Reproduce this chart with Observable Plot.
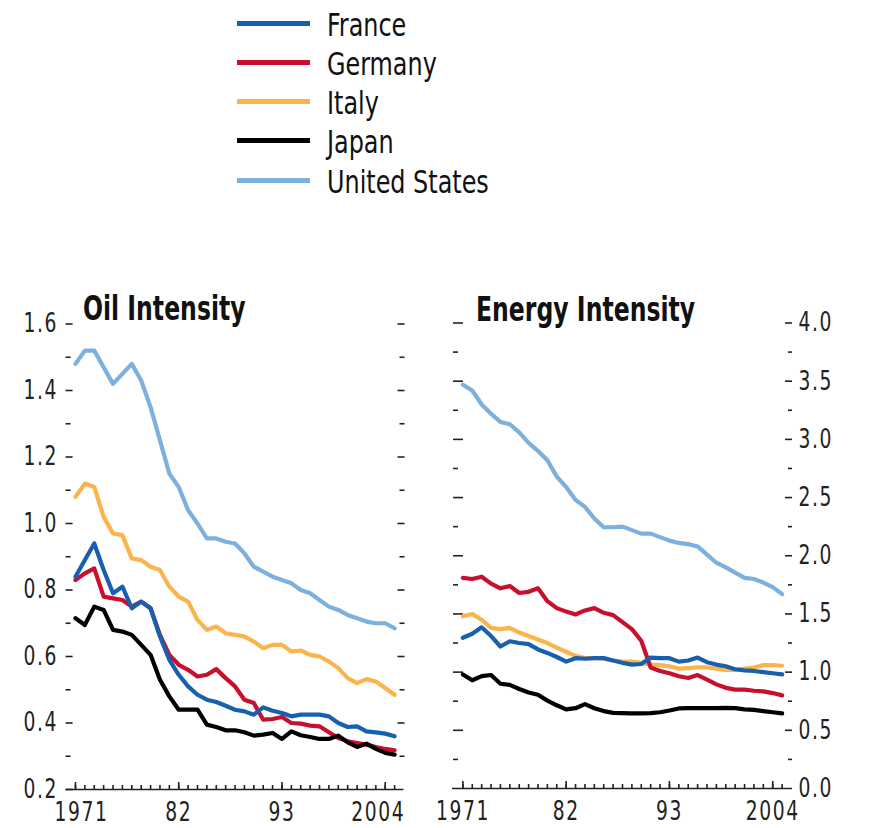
<!DOCTYPE html>
<html>
<head>
<meta charset="utf-8">
<script src="https://cdn.jsdelivr.net/npm/d3@7"></script>
<script src="https://cdn.jsdelivr.net/npm/@observablehq/plot@0.6"></script>
<style>
  html, body { margin: 0; padding: 0; background: #fff; }
  body { font-family: "DejaVu Sans Condensed", "Liberation Sans Narrow", sans-serif; color: #111; }
  #wrap { position: relative; width: 875px; height: 828px; overflow: hidden; }
  .legrow { position: absolute; left: 237px; height: 40px; display: flex; align-items: center; font-size: 32px; line-height: 40px; white-space: nowrap; }
  .legline { width: 73px; height: 5px; margin-right: 17px; flex: none; }
  .legtext { display: inline-block; transform: scaleX(0.83); transform-origin: left center; }
  .title { position: absolute; font-weight: bold; font-size: 34px; line-height: 34px; white-space: nowrap; transform: scaleX(0.77); transform-origin: left center; }
  .panel { position: absolute; top: 280px; }
</style>
</head>
<body>
<div id="wrap"></div>
<script>
// ---------- data ----------
const years = [1971,1972,1973,1974,1975,1976,1977,1978,1979,1980,
               1981,1982,1983,1984,1985,1986,1987,1988,1989,1990,
               1991,1992,1993,1994,1995,1996,1997,1998,1999,2000,
               2001,2002,2003,2004,2005];

const countries = ["France", "Germany", "Italy", "Japan", "United States"];
const colors = ["#1660ae", "#c8102e", "#fbb44c", "#000000", "#7db0dc"];
const drawOrder = ["Italy", "Germany", "France", "Japan", "United States"];

// Oil intensity
const oilFrance = [0.84,0.89,0.94,0.86,0.79,0.81,0.745,0.765,0.745,0.66,
                   0.59,0.545,0.51,0.485,0.47,0.463,0.452,0.44,0.435,0.425,
                   0.447,0.437,0.43,0.42,0.425,0.425,0.425,0.42,0.40,0.388,
                   0.39,0.375,0.372,0.368,0.36];
const oilGermany = [0.83,0.85,0.865,0.78,0.775,0.77,0.75,0.765,0.745,0.665,
                    0.605,0.575,0.56,0.54,0.545,0.562,0.535,0.51,0.47,0.46,
                    0.41,0.412,0.418,0.40,0.398,0.392,0.39,0.372,0.355,0.345,
                    0.34,0.335,0.328,0.322,0.318];
const oilItaly = [1.08,1.12,1.11,1.02,0.97,0.965,0.895,0.89,0.87,0.86,
                  0.81,0.78,0.765,0.71,0.68,0.69,0.67,0.665,0.66,0.645,
                  0.625,0.635,0.635,0.615,0.618,0.605,0.60,0.585,0.565,0.535,
                  0.52,0.532,0.525,0.505,0.485];
const oilJapan = [0.715,0.695,0.75,0.74,0.68,0.675,0.665,0.635,0.605,0.53,
                  0.48,0.44,0.44,0.44,0.395,0.388,0.378,0.378,0.372,0.362,
                  0.365,0.37,0.352,0.375,0.363,0.358,0.352,0.352,0.362,0.342,
                  0.328,0.338,0.322,0.31,0.305];
const oilUS = [1.48,1.52,1.52,1.47,1.42,1.45,1.48,1.43,1.35,1.25,
               1.15,1.11,1.04,1.00,0.955,0.955,0.945,0.94,0.91,0.87,
               0.855,0.84,0.83,0.82,0.80,0.79,0.77,0.75,0.74,0.725,
               0.715,0.705,0.70,0.70,0.685];

// Energy intensity
const enFrance = [1.295,1.33,1.385,1.31,1.22,1.265,1.25,1.24,1.195,1.165,
                  1.13,1.09,1.12,1.115,1.12,1.12,1.10,1.08,1.065,1.07,
                  1.125,1.12,1.12,1.09,1.10,1.125,1.085,1.065,1.05,1.025,
                  1.015,1.01,1.0,0.99,0.98];
const enGermany = [1.81,1.80,1.82,1.76,1.72,1.74,1.68,1.69,1.72,1.61,
                   1.55,1.52,1.495,1.53,1.55,1.51,1.49,1.43,1.37,1.27,
                   1.04,1.01,0.99,0.965,0.95,0.975,0.935,0.895,0.865,0.85,
                   0.85,0.84,0.835,0.82,0.80];
const enItaly = [1.48,1.50,1.45,1.38,1.37,1.38,1.34,1.31,1.28,1.25,
                 1.21,1.175,1.14,1.12,1.12,1.115,1.10,1.09,1.09,1.08,
                 1.065,1.06,1.05,1.03,1.035,1.04,1.04,1.03,1.02,1.02,
                 1.03,1.04,1.06,1.06,1.055];
const enJapan = [0.98,0.93,0.965,0.975,0.90,0.89,0.855,0.825,0.805,0.755,
                 0.715,0.68,0.69,0.725,0.69,0.665,0.65,0.648,0.645,0.645,
                 0.648,0.655,0.67,0.688,0.69,0.69,0.69,0.69,0.692,0.69,
                 0.68,0.675,0.665,0.655,0.645];
const enUS = [3.47,3.42,3.30,3.22,3.15,3.13,3.06,2.97,2.90,2.82,
              2.68,2.59,2.48,2.42,2.32,2.245,2.245,2.25,2.22,2.19,
              2.19,2.16,2.13,2.11,2.10,2.08,2.01,1.94,1.90,1.855,
              1.81,1.80,1.77,1.73,1.67];

// ticks
const xMajor = [1971, 1982, 1993, 2004];
const oilMajor = [0.2,0.4,0.6,0.8,1.0,1.2,1.4,1.6];
const oilMinor = [0.3,0.5,0.7,0.9,1.1,1.3,1.5];
const enMajor = [0,0.5,1.0,1.5,2.0,2.5,3.0,3.5,4.0];
const enMinor = [0.25,0.75,1.25,1.75,2.25,2.75,3.25,3.75];

const titles = ["Oil Intensity", "Energy Intensity"];

// ---------- build ----------
const oilSeries = {"France": oilFrance, "Germany": oilGermany, "Italy": oilItaly, "Japan": oilJapan, "United States": oilUS};
const enSeries = {"France": enFrance, "Germany": enGermany, "Italy": enItaly, "Japan": enJapan, "United States": enUS};
function toRows(series) {
  const out = [];
  for (const c of drawOrder) series[c].forEach((v, i) => out.push({year: years[i], country: c, value: v}));
  return out;
}
const oilRows = toRows(oilSeries);
const enRows = toRows(enSeries);

const FONT = "'DejaVu Sans Condensed', 'Liberation Sans Narrow', sans-serif";
const fmtYear = d => (d === 1971 || d === 2004) ? String(d) : String(d).slice(2);
const baseStyle = {fontFamily: FONT, fontSize: "26px", color: "#222", background: "transparent", overflow: "visible", letterSpacing: "2px"};
const tk = {fill: "none", strokeWidth: 1.6, label: null};
const LW = 4.2;

// condense svg text horizontally around its own anchor point
function squeeze(svg, s) {
  svg.querySelectorAll("text").forEach(t => {
    const tr = t.getAttribute("transform") || "";
    const xa = t.getAttribute("x");
    let pre = "";
    if (xa !== null && isFinite(+xa)) { pre = ` translate(${+xa},0)`; t.removeAttribute("x"); }
    t.setAttribute("transform", `${tr}${pre} scale(${s},1)`);
  });
}

const wrap = document.getElementById("wrap");

// legend
countries.forEach((c, i) => {
  const row = document.createElement("div");
  row.className = "legrow";
  row.style.top = (23.3 + i * 39.2 - 18.5) + "px";
  const ln = document.createElement("div");
  ln.className = "legline";
  ln.style.background = colors[i];
  ln.style.marginTop = "-3px";
  const tx = document.createElement("span");
  tx.className = "legtext";
  tx.textContent = c;
  row.appendChild(ln); row.appendChild(tx);
  wrap.appendChild(row);
});

// left panel: oil intensity
const oilPlot = Plot.plot({
  width: 420, height: 548,
  marginLeft: 65.6, marginRight: 16.5, marginTop: 43.5, marginBottom: 39,
  x: {domain: [1970, 2006], axis: null},
  y: {domain: [0.2, 1.6], axis: null},
  color: {domain: countries, range: colors},
  style: baseStyle,
  marks: [
    Plot.ruleY([0.2], {stroke: "#222", strokeWidth: 1.6}),
    Plot.axisY(oilMajor, {anchor: "left", tickSize: 7, dx: 7, ...tk}),
    Plot.axisY(oilMinor, {anchor: "left", tickSize: 5, dx: 5, ...tk}),
    Plot.axisY(oilMajor.filter(d => d > 0.2), {anchor: "right", tickSize: 7, dx: -7, ...tk}),
    Plot.axisY(oilMinor, {anchor: "right", tickSize: 5, dx: -5, ...tk}),
    Plot.axisY(oilMajor, {anchor: "left", tickSize: 0, tickPadding: 8, tickFormat: d3.format(".1f"), label: null}),
    Plot.axisX(years, {anchor: "bottom", tickSize: 4, dy: -4, ...tk}),
    Plot.axisX(xMajor, {anchor: "bottom", tickSize: 7, dy: -7, ...tk}),
    Plot.axisX([1971], {anchor: "bottom", tickSize: 0, tickPadding: 13, dx: 6, tickFormat: fmtYear, label: null}),
    Plot.axisX([1982, 1993], {anchor: "bottom", tickSize: 0, tickPadding: 13, tickFormat: fmtYear, label: null}),
    Plot.axisX([2004], {anchor: "bottom", tickSize: 0, tickPadding: 13, dx: -7, tickFormat: fmtYear, label: null}),
    Plot.line(oilRows, {x: "year", y: "value", z: "country", stroke: "country", strokeWidth: LW})
  ]
});
squeeze(oilPlot, 0.8);
oilPlot.classList.add("panel");
oilPlot.style.left = "0px";
wrap.appendChild(oilPlot);

// right panel: energy intensity
const enPlot = Plot.plot({
  width: 445, height: 548,
  marginLeft: 23, marginRight: 84, marginTop: 42.5, marginBottom: 40,
  x: {domain: [1970, 2006], axis: null},
  y: {domain: [0, 4], axis: null},
  color: {domain: countries, range: colors},
  style: baseStyle,
  marks: [
    Plot.ruleY([0], {stroke: "#222", strokeWidth: 1.6, x1: 1969.9, x2: 2006.1}),
    Plot.axisY(enMajor.filter(d => d > 0), {anchor: "left", tickSize: 10, dx: 10, ...tk}),
    Plot.axisY(enMinor, {anchor: "left", tickSize: 5, dx: 5, ...tk}),
    Plot.axisY(enMajor.filter(d => d > 0), {anchor: "right", tickSize: 7, dx: -7, ...tk}),
    Plot.axisY(enMinor, {anchor: "right", tickSize: 4, dx: -4, ...tk}),
    Plot.axisY(enMajor, {anchor: "right", tickSize: 0, tickPadding: 7, tickFormat: d3.format(".1f"), label: null}),
    Plot.axisX(years, {anchor: "bottom", tickSize: 4, dy: -4, ...tk}),
    Plot.axisX(xMajor, {anchor: "bottom", tickSize: 7, dy: -7, ...tk}),
    Plot.axisX(xMajor, {anchor: "bottom", tickSize: 0, tickPadding: 13, tickFormat: fmtYear, label: null}),
    Plot.line(enRows, {x: "year", y: "value", z: "country", stroke: "country", strokeWidth: LW})
  ]
});
squeeze(enPlot, 0.8);
enPlot.classList.add("panel");
enPlot.style.left = "430px";
wrap.appendChild(enPlot);

// titles
[[titles[0], 83, 291], [titles[1], 476, 292]].forEach(([t, x, y]) => {
  const d = document.createElement("div");
  d.className = "title";
  d.style.left = x + "px";
  d.style.top = y + "px";
  d.textContent = t;
  wrap.appendChild(d);
});
</script>
</body>
</html>
